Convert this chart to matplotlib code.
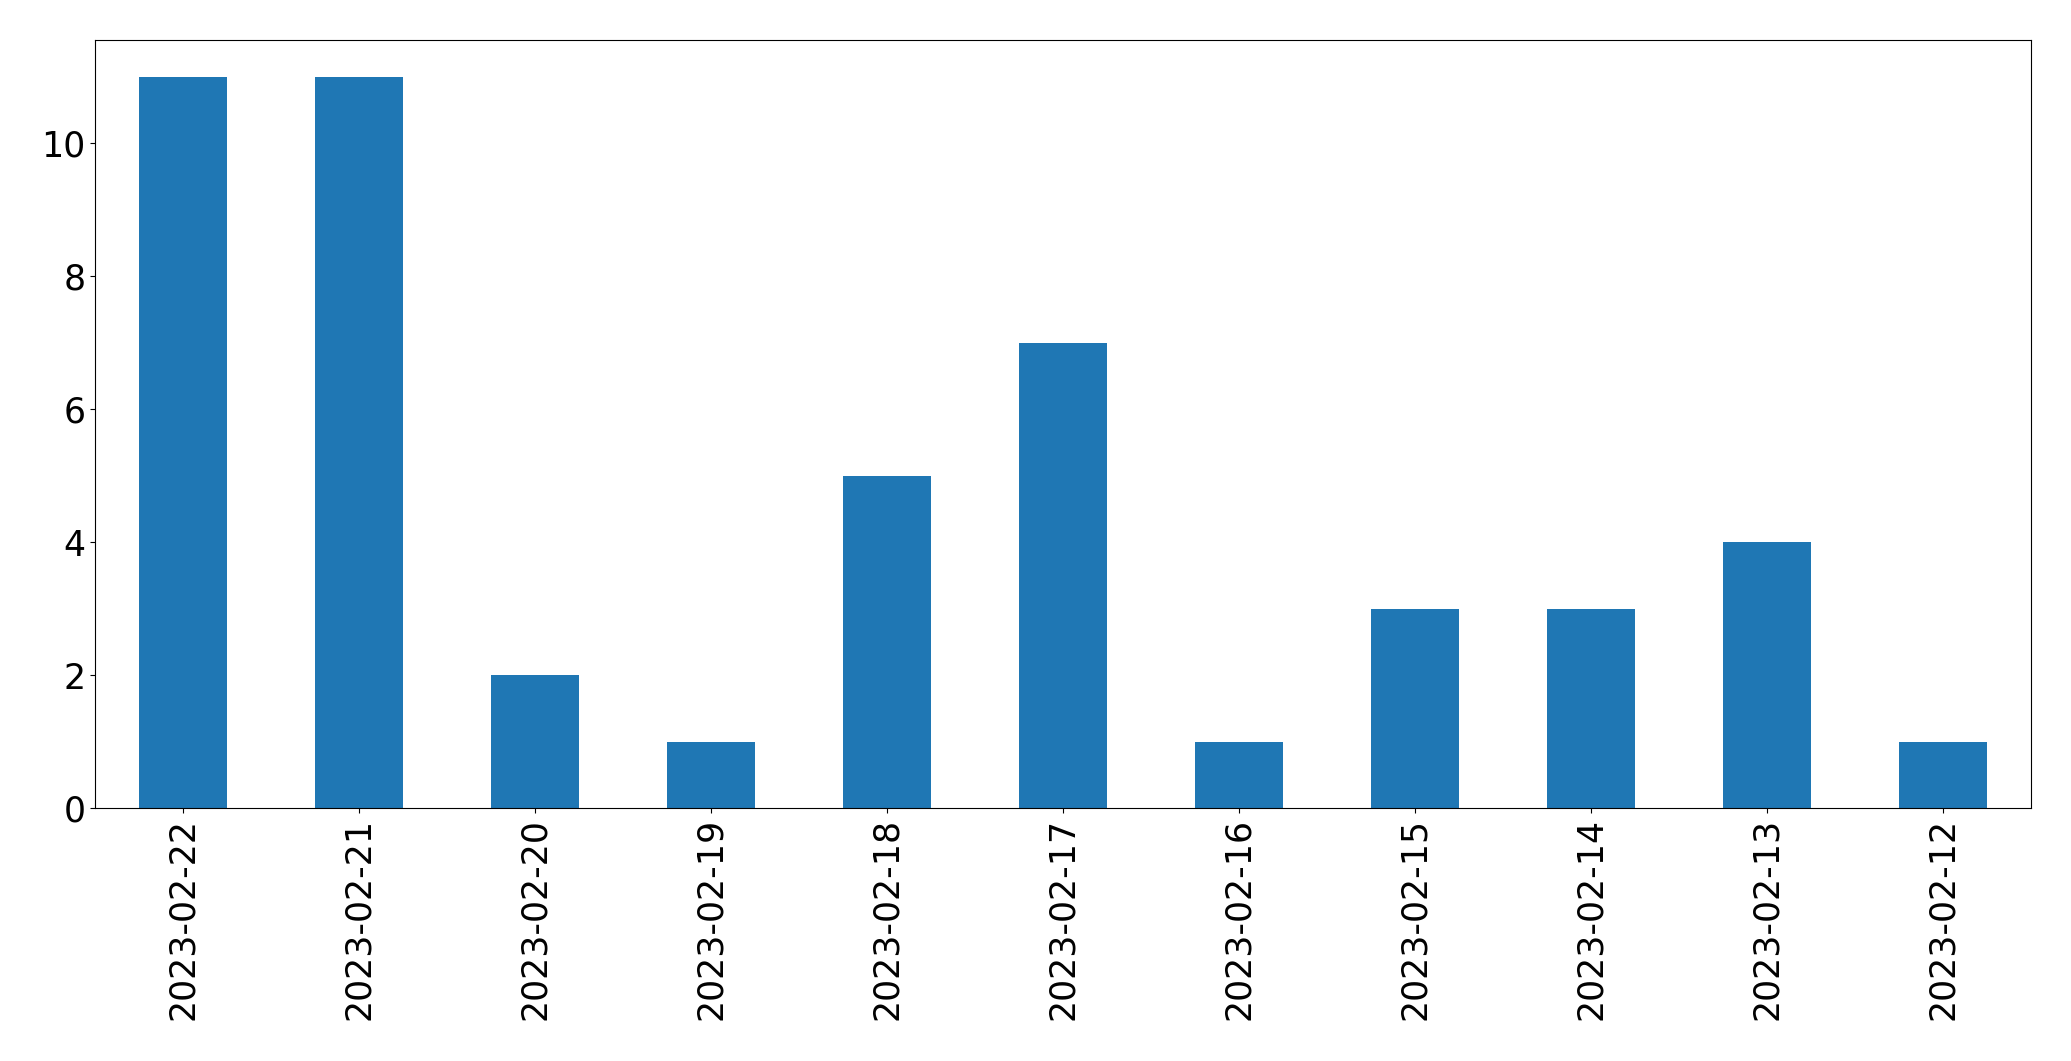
import matplotlib
matplotlib.use("Agg")
import matplotlib.pyplot as plt

dates = ["2023-02-22", "2023-02-21", "2023-02-20", "2023-02-19", "2023-02-18",
         "2023-02-17", "2023-02-16", "2023-02-15", "2023-02-14", "2023-02-13",
         "2023-02-12"]
counts = [11, 11, 2, 1, 5, 7, 1, 3, 3, 4, 1]

fig = plt.figure(figsize=(20.71, 10.61), dpi=100)
ax = fig.add_axes([95 / 2071, 1 - 808 / 1061, (2031 - 95) / 2071, (808 - 40) / 1061])

x = range(len(dates))
ax.bar(x, counts, width=0.5, color="#1f77b4")
ax.set_xlim(-0.5, len(dates) - 0.5)
ax.set_xticks(list(x))
ax.set_xticklabels(dates, rotation=90)
ax.tick_params(axis="both", labelsize=25)

fig.savefig("out.png", dpi=100)
